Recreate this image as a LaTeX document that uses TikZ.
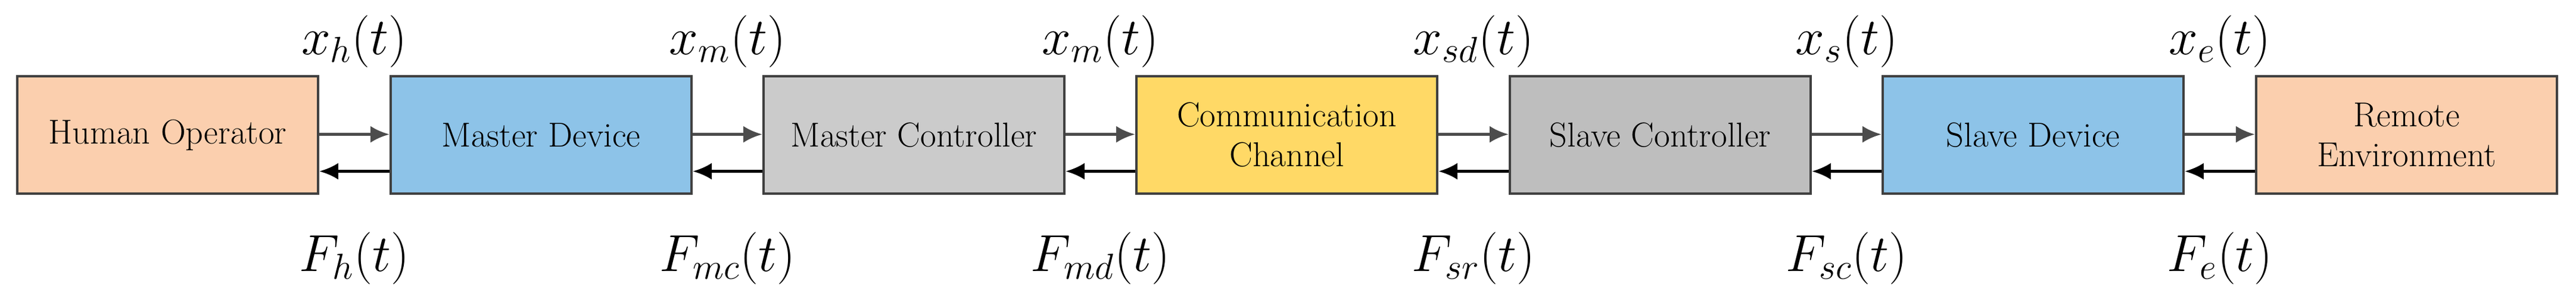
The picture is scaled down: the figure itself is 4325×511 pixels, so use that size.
\documentclass[tikz,border=0pt]{standalone}
\usetikzlibrary{arrows.meta}
\definecolor{peach}{HTML}{FBCFAE}
\definecolor{mblue}{HTML}{8DC3E8}
\definecolor{lgray}{HTML}{CBCBCB}
\definecolor{cyel}{HTML}{FFD966}
\definecolor{dgray}{HTML}{BEBEBE}
\begin{document}
\begin{tikzpicture}[x=0.01cm,y=-0.01cm,
 box/.style={draw=black!75,line width=1.2pt,minimum width=5.05cm,minimum height=1.97cm,inner sep=0pt,align=center,font=\fontsize{16.5}{19}\selectfont},
 arr/.style={-{Latex[length=9pt,width=8pt]},line width=1.3pt},
 lab/.style={font=\fontsize{26}{30}\selectfont}]
\useasboundingbox (0,0) rectangle (4325,511);
\node[box,fill=peach] (a) at (281.5,226.5) {Human Operator};
\node[box,fill=mblue] (b) at (908.5,226.5) {Master Device};
\node[box,fill=lgray] (c) at (1534.5,226.5) {Master Controller};
\node[box,fill=cyel] (d) at (2160.5,226.5) {Communication\\Channel};
\node[box,fill=dgray] (e) at (2787.5,226.5) {Slave Controller};
\node[box,fill=mblue] (f) at (3413.5,226.5) {Slave Device};
\node[box,fill=peach] (g) at (4040.5,226.5) {Remote\\Environment};
\foreach \u/\v/\t/\bt in {a/b/x_h(t)/F_h(t), b/c/x_m(t)/F_{mc}(t), c/d/x_m(t)/F_{md}(t), d/e/x_{sd}(t)/F_{sr}(t), e/f/x_s(t)/F_{sc}(t), f/g/x_e(t)/F_e(t)}{
 \draw[arr,black!70] ([yshift=0.01cm]\u.east) -- ([yshift=0.01cm]\v.west);
 \draw[arr] ([yshift=-0.61cm]\v.west) -- ([yshift=-0.61cm]\u.east);
 \path (\u.east) -- (\v.west) coordinate[midway] (m\u);
 \node[lab] (t\u) at ([yshift=1.57cm]m\u) {$\t$};
 \node[lab] (b\u) at ([yshift=-2.07cm]m\u) {$\bt$};
}
\end{tikzpicture}
\end{document}
